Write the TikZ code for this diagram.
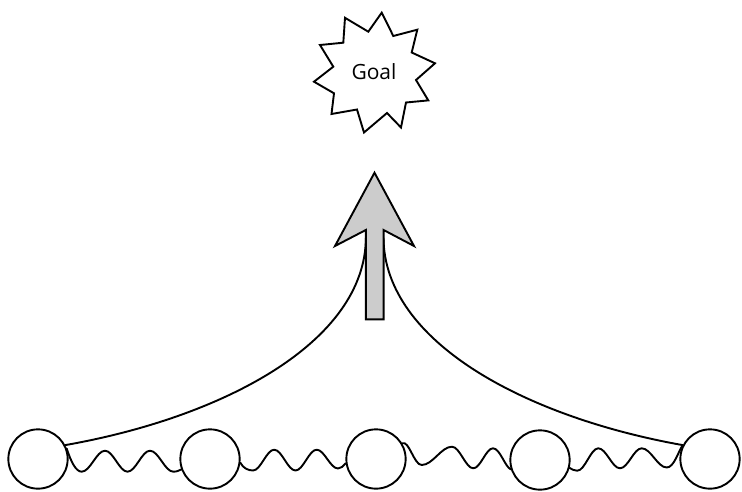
\documentclass[tikz,border=0pt]{standalone}
\usepackage{fontspec}
\setmainfont{Open Sans}
\definecolor{arrowgray}{RGB}{204,204,204}
\begin{document}
\begin{tikzpicture}[x=1pt,y=-1pt,line width=1.9pt,
  circ/.style={circle,draw,fill=white,minimum size=59.3pt,inner sep=0pt},
  link/.style={line join=round,line cap=round},
  arrowbody/.style={draw,fill=arrowgray,line join=miter},
  burst/.style={draw,fill=white,line join=miter},
  goaltext/.style={font=\fontsize{21}{25}\selectfont,inner sep=0pt}]
\useasboundingbox (0,0) rectangle (742,492);

% circles
\node[circ] (c1) at (38,459) {};
\node[circ] (c2) at (210,459) {};
\node[circ] (c3) at (376,459) {};
\node[circ] (c4) at (540,460) {};
\node[circ] (c5) at (710,459) {};

% ends of the two curves at the arrow shaft
\coordinate (al) at (365.9,238);
\coordinate (ar) at (383.5,238);

% curves
\draw[link] (c1.27) .. controls (223.6,417.2) and (365,342) .. (al);
\draw[link] (c5.153) .. controls (525.8,417.2) and (384.4,342) .. (ar);

% wavy links
\draw[link] (c1.20) .. controls (71,462) and (76,471.7) .. (81.7,471.7)
  cos (93.4,461.2) sin (105,450.7) cos (116.3,461.2) sin (127.5,471.7)
  cos (138.8,461.2) sin (150,450.7) cos (161.7,461.2) sin (173.3,471.7)
  .. controls (177,471.7) and (179,470.5) .. (c2.200);
\draw[link] (c2.-7) .. controls (243,468) and (248,470.5) .. (253,470.5)
  cos (263.6,460.1) sin (274.2,449.7) cos (284.8,460.1) sin (295.5,470.5)
  cos (306.1,460.1) sin (316.7,449.7) cos (327.3,459.1) sin (338,468.5)
  .. controls (341,468.5) and (343.5,466) .. (c3.188);
\draw[link] (c3.31) .. controls (409,440) and (414,465) .. (421.7,465)
  cos (437,455.8) sin (452,446.7) cos (462.7,457.5) sin (473.3,468.3)
  cos (483.2,458.3) sin (493,448.3)
  .. controls (500,448.3) and (505,467) .. (c4.198);
\draw[link] (c4.-15) .. controls (572,469.5) and (574.5,470.7) .. (577.3,470.7)
  cos (587.8,459.5) sin (598.3,448.3) cos (609.2,458.3) sin (620,468.3)
  cos (630.9,458.3) sin (641.7,448.3) cos (654.2,457.9) sin (666.7,467.5)
  .. controls (674,467.5) and (678,452) .. (c5.153);

% big arrow
\draw[arrowbody] (374.5,172.7) -- (414,246) -- (383.6,230) -- (383.6,319.3)
  -- (365.8,319.3) -- (365.8,230) -- (335,246) -- cycle;

% goal burst
\draw[burst] (381.7,12.7) -- (393.3,36) -- (417.3,29.7) -- (411.7,52.5)
  -- (435,63.3) -- (416,80) -- (428.3,100.4) -- (406,102.5)
  -- (401,127.5) -- (387,113) -- (364,132.5) -- (357,109.5)
  -- (331.5,114) -- (334,93.3) -- (314,81.7) -- (333.3,66.7)
  -- (320,45) -- (343.3,42.7) -- (345,17.8) -- (368.3,31.7) -- cycle;
\node[goaltext] (goal) at (374,71.5) {Goal};
\end{tikzpicture}
\end{document}
